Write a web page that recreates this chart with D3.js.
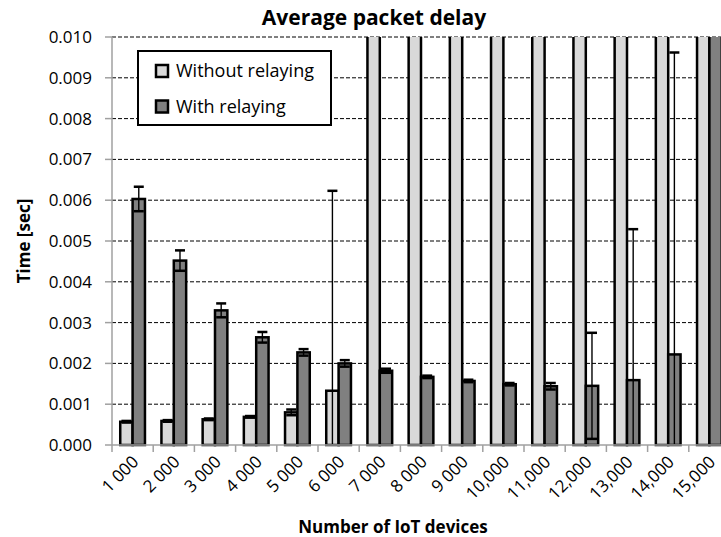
<!DOCTYPE html>
<html><head><meta charset="utf-8">
<script src="https://cdn.jsdelivr.net/npm/d3@7"></script>
<style>body{margin:0;background:#fff}svg{display:block}</style>
</head><body>
<script>
const categories = ["1 000","2 000","3 000","4 000","5 000","6 000","7 000","8 000","9 000","10,000","11,000","12,000","13,000","14,000","15,000"];
const seriesNames = ["Without relaying","With relaying"];
// values above 0.010 run off the top of the chart (estimated, clipped)
const withoutRelaying = [0.00057,0.00059,0.00063,0.00069,0.00080,0.00133,0.015,0.015,0.015,0.015,0.015,0.015,0.015,0.015,0.015];
const withoutErr      = [0.00002,0.00002,0.00002,0.00002,0.00007,0.0049,0,0,0,0,0,0,0,0,0];
const withRelaying    = [0.00603,0.00452,0.00330,0.00264,0.00227,0.00200,0.00182,0.00167,0.00157,0.00149,0.00144,0.00145,0.00159,0.00222,0.015];
const withErr         = [0.00030,0.00025,0.00017,0.00013,0.00008,0.00008,0.00005,0.00003,0.00003,0.00003,0.00008,0.0013,0.0037,0.0074,0];
const yTicks = [0,0.001,0.002,0.003,0.004,0.005,0.006,0.007,0.008,0.009,0.010];
const fills = ["#d9d9d9","#808080"];

const W=721,H=537, L=112, T=37, B=445, band=41.2, R=L+band*categories.length;
const svg=d3.select("body").append("svg").attr("width",W).attr("height",H);
svg.append("rect").attr("width",W).attr("height",H).attr("fill","#fff");
const font="'Open Sans', sans-serif";

const x0=d3.scaleBand().domain(categories).range([L,R]).padding(0);
const x1=d3.scaleBand().domain(seriesNames).range([x0.bandwidth()*0.2, x0.bandwidth()*0.8]);
const y=d3.scaleLinear().domain([0,0.01]).range([B,T]);

svg.append("defs").append("clipPath").attr("id","clip").append("rect")
  .attr("x",L).attr("y",T).attr("width",R-L).attr("height",B-T+4);

// grid
svg.append("g").selectAll("line").data(yTicks.slice(1)).join("line")
  .attr("x1",L).attr("x2",R).attr("y1",d=>y(d)).attr("y2",d=>y(d))
  .attr("stroke","#000").attr("stroke-width",1).attr("stroke-dasharray","4,2");

const data=categories.map((c,i)=>({c, vals:[
  {s:seriesNames[0], v:withoutRelaying[i], e:withoutErr[i]},
  {s:seriesNames[1], v:withRelaying[i], e:withErr[i]}]}));

const plot=svg.append("g").attr("clip-path","url(#clip)");
const groups=plot.selectAll("g.cat").data(data).join("g").attr("class","cat")
  .attr("transform",d=>`translate(${x0(d.c)},0)`);
groups.selectAll("rect").data(d=>d.vals).join("rect")
  .attr("x",d=>x1(d.s)).attr("width",x1.bandwidth())
  .attr("y",d=>y(d.v)).attr("height",d=>y(0)-y(d.v))
  .attr("fill",(d,i)=>fills[i]).attr("stroke","#000").attr("stroke-width",2.5);

// error bars
const eb=groups.selectAll("g.err").data(d=>d.vals.filter(v=>v.e>0)).join("g").attr("class","err");
eb.append("line")
  .attr("x1",d=>x1(d.s)+x1.bandwidth()/2).attr("x2",d=>x1(d.s)+x1.bandwidth()/2)
  .attr("y1",d=>y(Math.max(0,d.v-d.e))).attr("y2",d=>y(d.v+d.e))
  .attr("stroke","#000").attr("stroke-width",1.4);
eb.selectAll("line.cap").data(d=>[d.v+d.e, d.v-d.e].filter(v=>v>=0).map(v=>({s:d.s,v}))).join("line").attr("class","cap")
  .attr("x1",d=>x1(d.s)+x1.bandwidth()/2-5).attr("x2",d=>x1(d.s)+x1.bandwidth()/2+5)
  .attr("y1",d=>y(d.v)).attr("y2",d=>y(d.v))
  .attr("stroke","#000").attr("stroke-width",2.5);

// axes
const axisCol="#a0a0a0";
svg.append("line").attr("x1",L).attr("x2",L).attr("y1",T).attr("y2",B).attr("stroke",axisCol).attr("stroke-width",1.5);
svg.append("line").attr("x1",L).attr("x2",R).attr("y1",B).attr("y2",B).attr("stroke",axisCol).attr("stroke-width",1.5);
svg.append("g").selectAll("line").data(yTicks).join("line")
  .attr("x1",L-7).attr("x2",L).attr("y1",d=>y(d)).attr("y2",d=>y(d)).attr("stroke",axisCol).attr("stroke-width",1.5);
svg.append("g").selectAll("line").data(categories.concat(["_end"])).join("line")
  .attr("x1",(d,i)=>L+i*x0.step()).attr("x2",(d,i)=>L+i*x0.step())
  .attr("y1",B).attr("y2",B+7).attr("stroke",axisCol).attr("stroke-width",1.5);

svg.append("g").selectAll("text").data(yTicks).join("text")
  .attr("x",L-20).attr("y",d=>y(d)).attr("dy","0.35em").attr("text-anchor","end")
  .attr("font-family",font).attr("font-size",17).attr("fill","#000").text(d3.format(".3f"));

svg.append("g").selectAll("text").data(categories).join("text")
  .attr("transform",d=>`translate(${x0(d)+x0.bandwidth()/2+7},${B+18}) rotate(-45)`)
  .attr("text-anchor","end").attr("font-family",font).attr("font-size",17).attr("fill","#000").text(d=>d);

// titles
svg.append("text").attr("x",374).attr("y",25).attr("text-anchor","middle")
  .attr("font-family",font).attr("font-weight","bold").attr("font-size",21).text("Average packet delay");
svg.append("text").attr("x",393).attr("y",533).attr("text-anchor","middle")
  .attr("font-family",font).attr("font-weight","bold").attr("font-size",17).text("Number of IoT devices");
svg.append("text").attr("transform","translate(30,241) rotate(-90)").attr("text-anchor","middle")
  .attr("font-family",font).attr("font-weight","bold").attr("font-size",17).text("Time [sec]");

// legend
const lg=svg.append("g");
lg.append("rect").attr("x",138).attr("y",51).attr("width",193).attr("height",74)
  .attr("fill","#fff").attr("stroke","#000").attr("stroke-width",2);
const li=lg.selectAll("g.item").data(seriesNames).join("g").attr("class","item")
  .attr("transform",(d,i)=>`translate(156,${65+i*35.5})`);
li.append("rect").attr("width",12).attr("height",12).attr("fill",(d,i)=>fills[i]).attr("stroke","#000").attr("stroke-width",2.5);
li.append("text").attr("x",20).attr("y",12).attr("font-family",font).attr("font-size",18).attr("fill","#000").text(d=>d);
</script>
</body></html>
